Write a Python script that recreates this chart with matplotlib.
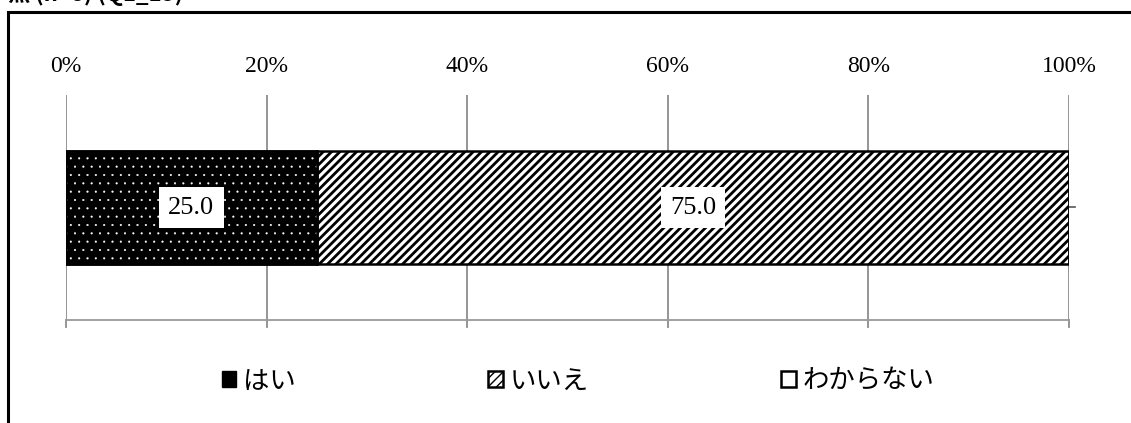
import matplotlib.pyplot as plt
from matplotlib.patches import Rectangle, Patch

plt.rcParams['font.family'] = ['Noto Sans CJK JP', 'DejaVu Sans']

labels = ['はい', 'いいえ', 'わからない']
values = [25.0, 75.0, 0.0]
ticks = [0, 20, 40, 60, 80, 100]
title = '無 (n=8) (Q1_15)'

fig = plt.figure(figsize=(11.31, 4.23), dpi=100)
W, H = 1131, 423

# cut-off title at the very top
fig.text(8 / W, 1 - 6 / H, title, fontsize=16, fontweight='bold', va='bottom', ha='left')
# chart frame (only top and left visible)
fig.patches.append(Rectangle((8 / W, -0.1), 1.2, 1.1 - 12 / H, transform=fig.transFigure,
                             fill=False, edgecolor='black', linewidth=2.2))

ax = fig.add_axes([66 / W, 1 - 320 / H, (1069 - 66) / W, (320 - 95) / H])
ax.set_xlim(0, 100)
ax.set_ylim(-1, 1)

left = 0
handles = []
for lab, v in zip(labels, values):
    if lab == 'はい':
        ax.barh(0, v, left=left, height=1.0, color='black', edgecolor='black', linewidth=1.8, zorder=3)
        with plt.rc_context({'hatch.linewidth': 0.3}):
            ax.barh(0, v, left=left, height=1.0, color='none', edgecolor='white', hatch='..', linewidth=0, zorder=4)
        ax.barh(0, v, left=left, height=1.0, color='none', edgecolor='black', linewidth=1.8, zorder=5)
        handles.append(Patch(facecolor='black', edgecolor='black', label=lab))
    elif lab == 'いいえ':
        with plt.rc_context({'hatch.linewidth': 2.0}):
            ax.barh(0, v, left=left, height=1.0, color='white', edgecolor='black', hatch='////', linewidth=1.8, zorder=3)
            handles.append(Patch(facecolor='white', edgecolor='black', hatch='////', linewidth=1.8, label=lab))
    else:
        ax.barh(0, v, left=left, height=1.0, color='white', edgecolor='black', linewidth=1.8, zorder=3)
        handles.append(Patch(facecolor='white', edgecolor='black', linewidth=1.8, label=lab))
    if v > 0:
        ax.text(left + v / 2, 0, '%.1f' % v, ha='center', va='center', fontsize=19,
                family=['Liberation Serif'], zorder=6,
                bbox=dict(boxstyle='square,pad=0.35', facecolor='white', edgecolor='none'))
    left += v

ax.set_xticks(ticks)
ax.set_xticklabels(['%d%%' % t for t in ticks], family=['Liberation Serif'], fontsize=17)
ax.xaxis.tick_top()
ax.tick_params(axis='x', which='both', length=0, pad=13)
ax.grid(axis='x', color='#8c8c8c', linewidth=1.3, zorder=0)
ax.set_yticks([])
for s in ['top', 'left', 'right']:
    ax.spines[s].set_visible(False)
ax.spines['bottom'].set_color('#9a9a9a')
ax.spines['bottom'].set_linewidth(1.3)
# small ticks below the bottom line
for t in ticks:
    ax.plot([t, t], [-1, -1.06], color='#8c8c8c', linewidth=1.3, clip_on=False)
# category axis tick on the right
ax.plot([100, 100.6], [0, 0], color='#555555', linewidth=1.2, clip_on=False)

fig.legend(handles=handles, loc='center', bbox_to_anchor=(578 / W, 1 - 381 / H), ncol=3,
           frameon=False, fontsize=19, handlelength=0.55, handleheight=0.55,
           handletextpad=0.25, columnspacing=7.3)

fig.savefig('out.png', dpi=100)
